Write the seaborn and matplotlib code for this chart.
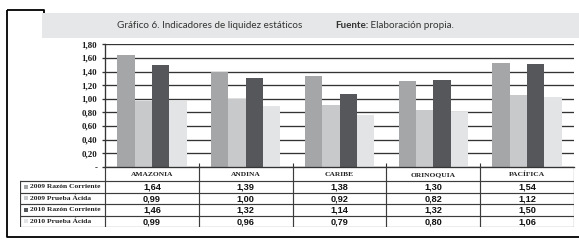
import matplotlib.pyplot as plt
import pandas as pd
import seaborn as sns
from matplotlib.lines import Line2D
from matplotlib.patches import Rectangle

# data
regiones = ['AMAZONIA', 'ANDINA', 'CARIBE', 'ORINOQUIA', 'PACÍFICA']
series = ['2009 Razón Corriente', '2009 Prueba Ácida', '2010 Razón Corriente', '2010 Prueba Ácida']
# bar heights as drawn in the chart
razon_2009 = [1.64, 1.40, 1.33, 1.26, 1.52]
prueba_2009 = [0.96, 1.00, 0.91, 0.84, 1.05]
razon_2010 = [1.49, 1.31, 1.07, 1.27, 1.51]
prueba_2010 = [0.97, 0.90, 0.76, 0.80, 1.02]
# values printed in the data table
tabla_razon_2009 = ['1,64', '1,39', '1,38', '1,30', '1,54']
tabla_prueba_2009 = ['0,99', '1,00', '0,92', '0,82', '1,12']
tabla_razon_2010 = ['1,46', '1,32', '1,14', '1,32', '1,50']
tabla_prueba_2010 = ['0,99', '0,96', '0,79', '0,80', '1,06']
yticks = [0, 0.2, 0.4, 0.6, 0.8, 1.0, 1.2, 1.4, 1.6, 1.8]
ytick_labels = ['-', '0,20', '0,40', '0,60', '0,80', '1,00', '1,20', '1,40', '1,60', '1,80']

colores = ['#a5a6a8', '#c8c9cb', '#55575a', '#e3e4e6']

df = pd.DataFrame({
    'region': regiones * 4,
    'serie': [s for s in series for _ in regiones],
    'valor': razon_2009 + prueba_2009 + razon_2010 + prueba_2010,
})
tabla = [tabla_razon_2009, tabla_prueba_2009, tabla_razon_2010, tabla_prueba_2010]

W, H = 579, 242
fig = plt.figure(figsize=(W / 100, H / 100), dpi=100)

# canvas in pixel coords for frame / header
bg = fig.add_axes([0, 0, 1, 1], zorder=0)
bg.set_xlim(0, W)
bg.set_ylim(H, 0)
bg.axis('off')
bg.add_patch(Rectangle((42, 13), W - 42, 25, color='#e6e7e8', lw=0))
frame = dict(color='black', lw=1.3, solid_capstyle='butt')
bg.add_line(Line2D([6.5, 44, 44], [9.5, 9.5, 13], **frame))
bg.add_line(Line2D([6.5, 6.5, W], [9.5, 237, 237], **frame))
bg.text(117, 25.5, 'Gráfico 6. Indicadores de liquidez estáticos', family='Lato',
        fontsize=7.1, color='#333333', va='center', ha='left')
fuente = bg.text(335, 25.5, 'Fuente:', family='Lato', fontweight='bold',
                 fontsize=7.1, color='#333333', va='center', ha='left')
bg.annotate(' Elaboración propia.', xy=(1, 0.5), xycoords=fuente, family='Lato',
            fontsize=7.1, color='#333333', va='center', ha='left')

# main bar chart
ax_left, ax_right, ax_top, ax_bot = 105, 574, 44.3, 166.7
ax = fig.add_axes([ax_left / W, 1 - ax_bot / H, (ax_right - ax_left) / W,
                   (ax_bot - ax_top) / H], zorder=2)
ax.patch.set_alpha(0)
sns.barplot(data=df, x='region', y='valor', hue='serie', order=regiones,
            hue_order=series, palette=colores, width=0.74, gap=0,
            saturation=1, legend=False, ax=ax)
ax.set_xlim(-0.5, 4.5)
ax.set_ylim(0, 1.8)
ax.set_yticks(yticks)
ax.set_yticklabels(ytick_labels, family='Liberation Serif', fontweight='bold',
                   fontsize=6.4, color='#1a1a1a')
ax.grid(axis='y', color='#333333', lw=0.95)
ax.set_axisbelow(True)
ax.tick_params(axis='y', length=2.5, width=0.95, color='#333333', pad=3)
ax.set_xticks([])
ax.set_xticks([0.5, 1.5, 2.5, 3.5], minor=True)
ax.tick_params(axis='x', which='minor', direction='in', length=3, width=0.8,
               color='#333333')
ax.set_xlabel('')
ax.set_ylabel('')
for s in ['top', 'right']:
    ax.spines[s].set_visible(False)
for s in ['left', 'bottom']:
    ax.spines[s].set_color('#333333')
    ax.spines[s].set_linewidth(0.95)

# data table below
tab_left, tab_bot = 20, 227
col_w = (ax_right - ax_left) / 5
lab_w = (ax_left - tab_left) / col_w
hdr = 1.25
tab = fig.add_axes([tab_left / W, 1 - tab_bot / H, (ax_right - tab_left) / W,
                    (tab_bot - ax_bot) / H], zorder=2)
tab.set_xlim(-0.5 - lab_w, 4.5)
tab.set_ylim(hdr + 4, 0)
tab.axis('off')
lc = dict(color='#3c3c3c', lw=0.85)
for r in range(5):
    tab.plot([-0.5 - lab_w, 4.5], [hdr + r, hdr + r], **lc)
tab.plot([-0.5 - lab_w, -0.5 - lab_w], [hdr, hdr + 4], **lc)
for c in range(6):
    tab.plot([c - 0.5, c - 0.5], [0, hdr + 4], **lc)
for i, reg in enumerate(regiones):
    tab.text(i, hdr / 2 + 0.05, reg, ha='center', va='center', fontsize=5.4,
             family='Liberation Serif', fontweight='bold', color='#222222')
for r, (nombre, fila) in enumerate(zip(series, tabla)):
    y = hdr + r + 0.5
    tab.scatter([-0.5 - lab_w + 0.06], [y], marker='s', s=10, color=colores[r],
                linewidths=0)
    tab.text(-0.5 - lab_w + 0.11, y, nombre, ha='left', va='center',
             fontsize=5.4, family='Liberation Serif', fontweight='bold',
             color='#222222')
    for i, v in enumerate(fila):
        tab.text(i, y + 0.05, v, ha='center', va='center', fontsize=6.6,
                 family='Liberation Sans', fontweight='bold', color='#111111')

fig.savefig('out.png', dpi=100)
